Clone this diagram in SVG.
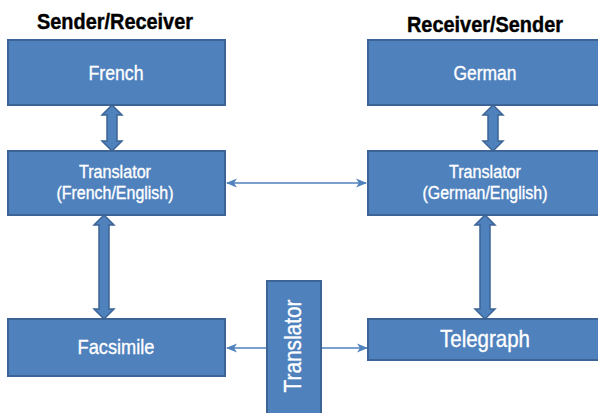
<svg xmlns="http://www.w3.org/2000/svg" width="598" height="413" viewBox="0 0 598 413">
<defs>
<style>
.box{fill:#4F81BD;stroke:#3D6496;stroke-width:2}
.lbl{fill:#fff;stroke:#fff;stroke-width:0.35;font-family:"Liberation Sans",Arial,sans-serif;text-anchor:middle}
.ttl{fill:#000;stroke:#000;stroke-width:0.4;font-family:"Liberation Sans",Arial,sans-serif;font-weight:bold;font-size:22px;text-anchor:middle}
.thick{fill:#4F81BD;stroke:#3D6496;stroke-width:1.5;stroke-linejoin:miter}
.thin{stroke:#4F81BD;stroke-width:1.3;fill:none}
</style>
<marker id="ah" markerUnits="userSpaceOnUse" markerWidth="12" markerHeight="10" refX="10" refY="4.5" orient="auto-start-reverse" viewBox="0 0 12 9">
<path d="M0,0 L11,4.5 L0,9 L3,4.5 z" fill="#4F81BD"/>
</marker>
</defs>
<text class="ttl" x="115" y="29" textLength="156" lengthAdjust="spacingAndGlyphs">Sender/Receiver</text>
<text class="ttl" x="485" y="32" textLength="156" lengthAdjust="spacingAndGlyphs">Receiver/Sender</text>

<g id="connectors">
<polygon class="thick" points="112,105 122,115 117,115 117,141 122,141 112,151 102,141 107,141 107,115 102,115"/>
<polygon class="thick" points="104,215 114,225 109,225 109,309 114,309 104,319 94,309 99,309 99,225 94,225"/>
<polygon class="thick" points="493,105 503,115 498,115 498,141 503,141 493,151 483,141 488,141 488,115 483,115"/>
<polygon class="thick" points="485,215 495,225 490,225 490,309 495,309 485,319 475,309 480,309 480,225 475,225"/>
<line class="thin" x1="227" y1="183" x2="366" y2="183" marker-start="url(#ah)" marker-end="url(#ah)"/>
<line class="thin" x1="267" y1="348" x2="227" y2="348" marker-end="url(#ah)"/>
<line class="thin" x1="321" y1="348" x2="367" y2="348" marker-end="url(#ah)"/>
</g>

<g id="french">
<rect class="box" x="8" y="40" width="217" height="65"/>
<text class="lbl" x="116" y="80" font-size="20" textLength="55" lengthAdjust="spacingAndGlyphs">French</text>
</g>
<g id="translator-fe">
<rect class="box" x="8" y="151" width="217" height="64"/>
<text class="lbl" x="115" y="178" font-size="17.5" textLength="72" lengthAdjust="spacingAndGlyphs">Translator</text>
<text class="lbl" x="115" y="199" font-size="17.5" textLength="117" lengthAdjust="spacingAndGlyphs">(French/English)</text>
</g>
<g id="facsimile">
<rect class="box" x="8" y="319" width="217" height="57"/>
<text class="lbl" x="116" y="354" font-size="21" textLength="77" lengthAdjust="spacingAndGlyphs">Facsimile</text>
</g>
<g id="german">
<rect class="box" x="368" y="40" width="236" height="65"/>
<text class="lbl" x="485" y="80" font-size="20" textLength="63" lengthAdjust="spacingAndGlyphs">German</text>
</g>
<g id="translator-ge">
<rect class="box" x="368" y="151" width="236" height="64"/>
<text class="lbl" x="485" y="178" font-size="17.5" textLength="72" lengthAdjust="spacingAndGlyphs">Translator</text>
<text class="lbl" x="485" y="199" font-size="17.5" textLength="125" lengthAdjust="spacingAndGlyphs">(German/English)</text>
</g>
<g id="telegraph">
<rect class="box" x="368" y="319" width="236" height="41"/>
<text class="lbl" x="485" y="347" font-size="24" textLength="90" lengthAdjust="spacingAndGlyphs">Telegraph</text>
</g>
<g id="translator">
<rect class="box" x="267" y="281" width="54" height="140"/>
<text class="lbl" transform="translate(301,346) rotate(-90)" font-size="24" textLength="93" lengthAdjust="spacingAndGlyphs">Translator</text>
</g>
</svg>
